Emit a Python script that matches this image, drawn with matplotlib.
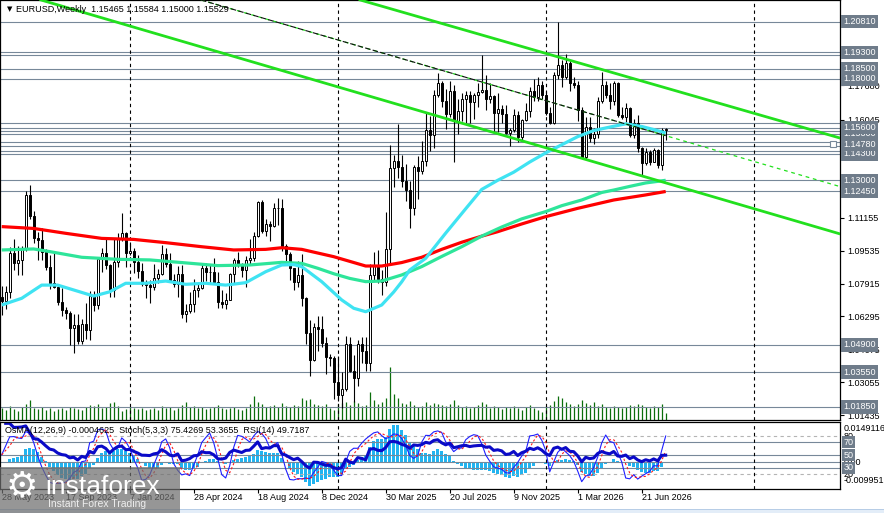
import numpy as np
import pandas as pd
import matplotlib
matplotlib.use("Agg")
import matplotlib.pyplot as plt
from matplotlib.patches import Rectangle
from matplotlib.transforms import blended_transform_factory as blend

plt.rcParams['font.family'] = ['Liberation Sans', 'DejaVu Sans']

# weekly EURUSD candles, bar 0 = week of 28 May 2023
first_open = 1.0725
closes = [
    1.0708, 1.0749, 1.0940, 1.0894, 1.0910, 1.0968, 1.1229, 1.1125, 1.1016, 1.1006,
    1.0949, 1.0872, 1.0796, 1.0775, 1.0700, 1.0660, 1.0645, 1.0573, 1.0588, 1.0510,
    1.0594, 1.0564, 1.0728, 1.0684, 1.0912, 1.0940, 1.0883, 1.0762, 1.0896, 1.1013,
    1.1039, 1.0940, 1.0950, 1.0897, 1.0851, 1.0787, 1.0784, 1.0776, 1.0820, 1.0838,
    1.0938, 1.0890, 1.0808, 1.0790, 1.0838, 1.0642, 1.0656, 1.0693, 1.0762, 1.0771,
    1.0870, 1.0847, 1.0848, 1.0801, 1.0702, 1.0692, 1.0713, 1.0841, 1.0907, 1.0881,
    1.0856, 1.0910, 1.0917, 1.1027, 1.1192, 1.1048, 1.1085, 1.1075, 1.1163, 1.1164,
    1.0975, 1.0936, 1.0866, 1.0797, 1.0834, 1.0720, 1.0546, 1.0416, 1.0576, 1.0566,
    1.0500, 1.0428, 1.0426, 1.0308, 1.0244, 1.0272, 1.0493, 1.0362, 1.0328, 1.0492,
    1.0459, 1.0401, 1.0834, 1.0880, 1.0815, 1.0800, 1.0960, 1.1360, 1.1395, 1.1364,
    1.1297, 1.1253, 1.1163, 1.1364, 1.1348, 1.1397, 1.1550, 1.1523, 1.1720, 1.1780,
    1.1690, 1.1627, 1.1740, 1.1590, 1.1640, 1.1700, 1.1720, 1.1685, 1.1718, 1.1735,
    1.1745, 1.1700, 1.1715, 1.1630, 1.1650, 1.1625, 1.1535, 1.1550, 1.1620, 1.1515,
    1.1595, 1.1640, 1.1740, 1.1710, 1.1770, 1.1718, 1.1630, 1.1581, 1.1819, 1.1868,
    1.1810, 1.1880, 1.1780, 1.1770, 1.1646, 1.1416, 1.1564, 1.1507, 1.1530, 1.1690,
    1.1769, 1.1720, 1.1690, 1.1780, 1.1622, 1.1610, 1.1654, 1.1523, 1.1580, 1.1458,
    1.1384, 1.1441, 1.1392, 1.1450, 1.1375, 1.15465, 1.15529,
]
highs = [
    1.0780, 1.0780, 1.0970, 1.1012, 1.0975, 1.0975, 1.1245, 1.1275, 1.1150, 1.1045,
    1.1065, 1.0960, 1.0930, 1.0945, 1.0780, 1.0770, 1.0675, 1.0655, 1.0640, 1.0640,
    1.0615, 1.0695, 1.0755, 1.0755, 1.0915, 1.0965, 1.1017, 1.0890, 1.1010, 1.1040,
    1.1140, 1.1045, 1.0998, 1.0965, 1.0930, 1.0895, 1.0810, 1.0810, 1.0890, 1.0865,
    1.0980, 1.0965, 1.0942, 1.0840, 1.0880, 1.0885, 1.0690, 1.0752, 1.0812, 1.0790,
    1.0895, 1.0895, 1.0890, 1.0915, 1.0850, 1.0760, 1.0745, 1.0845, 1.0915, 1.0948,
    1.0895, 1.0925, 1.1010, 1.1045, 1.1200, 1.1202, 1.1110, 1.1100, 1.1190, 1.1214,
    1.1210, 1.0985, 1.0945, 1.0870, 1.0905, 1.0937, 1.0725, 1.0610, 1.0595, 1.0630,
    1.0630, 1.0530, 1.0445, 1.0435, 1.0437, 1.0355, 1.0535, 1.0530, 1.0440, 1.0515,
    1.0530, 1.0530, 1.0890, 1.0945, 1.0955, 1.0860, 1.1145, 1.1475, 1.1425, 1.1575,
    1.1425, 1.1380, 1.1295, 1.1377, 1.1420, 1.1495, 1.1632, 1.1615, 1.1745, 1.1830,
    1.1790, 1.1750, 1.1790, 1.1770, 1.1700, 1.1730, 1.1740, 1.1740, 1.1730, 1.1780,
    1.1918, 1.1820, 1.1780, 1.1720, 1.1730, 1.1670, 1.1670, 1.1560, 1.1650, 1.1640,
    1.1600, 1.1680, 1.1760, 1.1800, 1.1810, 1.1790, 1.1740, 1.1660, 1.1835, 1.2081,
    1.1890, 1.1920, 1.1890, 1.1810, 1.1790, 1.1660, 1.1612, 1.1612, 1.1560, 1.1710,
    1.1835, 1.1790, 1.1780, 1.1790, 1.1786, 1.1660, 1.1680, 1.1660, 1.1600, 1.1620,
    1.1466, 1.1458, 1.1449, 1.1460, 1.1455, 1.1560, 1.15584,
]
lows = [
    1.0635, 1.0665, 1.0720, 1.0860, 1.0835, 1.0835, 1.0950, 1.1110, 1.0990, 1.0910,
    1.0910, 1.0860, 1.0765, 1.0770, 1.0685, 1.0630, 1.0615, 1.0488, 1.0448, 1.0495,
    1.0495, 1.0520, 1.0515, 1.0655, 1.0665, 1.0850, 1.0865, 1.0725, 1.0725, 1.0875,
    1.1000, 1.0875, 1.0930, 1.0845, 1.0820, 1.0780, 1.0722, 1.0695, 1.0760, 1.0795,
    1.0835, 1.0875, 1.0800, 1.0775, 1.0725, 1.0620, 1.0600, 1.0645, 1.0650, 1.0725,
    1.0765, 1.0805, 1.0790, 1.0790, 1.0670, 1.0670, 1.0665, 1.0710, 1.0790, 1.0875,
    1.0825, 1.0775, 1.0885, 1.0905, 1.1020, 1.1040, 1.1025, 1.1000, 1.1070, 1.1080,
    1.0950, 1.0905, 1.0810, 1.0760, 1.0775, 1.0680, 1.0495, 1.0335, 1.0410, 1.0460,
    1.0480, 1.0345, 1.0385, 1.0225, 1.0215, 1.0177, 1.0265, 1.0355, 1.0210, 1.0285,
    1.0400, 1.0360, 1.0360, 1.0805, 1.0795, 1.0735, 1.0780, 1.0885, 1.1265, 1.1310,
    1.1265, 1.1200, 1.1065, 1.1130, 1.1210, 1.1330, 1.1370, 1.1445, 1.1460, 1.1710,
    1.1660, 1.1555, 1.1610, 1.1391, 1.1530, 1.1590, 1.1580, 1.1580, 1.1600, 1.1660,
    1.1730, 1.1645, 1.1680, 1.1540, 1.1540, 1.1580, 1.1530, 1.1470, 1.1540, 1.1490,
    1.1500, 1.1590, 1.1610, 1.1690, 1.1690, 1.1700, 1.1622, 1.1575, 1.1575, 1.1800,
    1.1760, 1.1800, 1.1740, 1.1755, 1.1590, 1.1408, 1.1405, 1.1490, 1.1480, 1.1510,
    1.1680, 1.1705, 1.1650, 1.1670, 1.1613, 1.1600, 1.1589, 1.1515, 1.1510, 1.1441,
    1.1326, 1.1375, 1.1375, 1.1390, 1.1359, 1.1351, 1.1500,
]
volumes = [
    12, 10, 14, 11, 9, 13, 16, 20, 12, 11, 13, 10, 12, 9, 11, 12,
    10, 13, 12, 11, 10, 13, 15, 14, 16, 12, 13, 17, 18, 14, 9, 11,
    13, 12, 11, 12, 10, 11, 12, 10, 14, 12, 13, 10, 12, 15, 18, 13,
    14, 12, 13, 11, 12, 13, 15, 12, 11, 12, 13, 11, 10, 12, 16, 24,
    18, 16, 13, 14, 15, 13, 17, 14, 13, 15, 14, 22, 20, 21, 16, 15,
    14, 16, 12, 10, 16, 17, 18, 15, 19, 17, 14, 15, 28, 20, 16, 18,
    22, 53, 26, 22, 17, 16, 19, 15, 13, 14, 18, 15, 17, 16, 15, 14,
    16, 20, 15, 13, 14, 12, 13, 15, 18, 16, 12, 14, 13, 11, 13, 12,
    14, 12, 10, 13, 15, 12, 10, 8, 14, 15, 19, 24, 22, 18, 16, 14,
    16, 20, 17, 15, 18, 14, 16, 13, 12, 14, 13, 12, 13, 15, 14, 16,
    15, 13, 12, 14, 13, 16, 7,
]

# moving averages (bar index, price)
cyan_bars = [0, 5, 10, 14, 18, 23, 27, 31, 36, 41, 46, 51, 56, 61, 66, 70, 73, 75, 80, 85, 88,
             91, 95, 98, 100, 102, 106, 111, 116, 120, 124, 128, 132, 136, 140, 144, 148, 152,
             156, 160, 163, 166]
cyan_vals = [1.0686, 1.0719, 1.0784, 1.0784, 1.0760, 1.0730, 1.0751, 1.0793, 1.0793, 1.0804,
             1.0788, 1.0793, 1.0784, 1.0796, 1.0850, 1.0883, 1.0885, 1.0875, 1.0801, 1.0711,
             1.0670, 1.0653, 1.0686, 1.0750, 1.0800, 1.0858, 1.0916, 1.1040, 1.1160, 1.1255,
             1.1300, 1.1340, 1.1390, 1.1435, 1.1475, 1.1515, 1.1545, 1.1562, 1.1578, 1.1565,
             1.1550, 1.1533]
green_bars = [0, 8, 12, 20, 29, 37, 45, 54, 62, 70, 75, 79, 83, 87, 91, 95, 100, 105, 110, 115,
              120, 125, 130, 136, 140, 145, 150, 153, 157, 161, 166]
green_vals = [1.0957, 1.0962, 1.0949, 1.0921, 1.0911, 1.0908, 1.0895, 1.0880, 1.0883, 1.0896,
              1.0891, 1.0867, 1.0840, 1.0817, 1.0801, 1.0804, 1.0834, 1.0875, 1.0925, 1.0973,
              1.1025, 1.1070, 1.1110, 1.1146, 1.1175, 1.1203, 1.1240, 1.1252, 1.1270, 1.1287,
              1.1300]
red_bars = [0, 8, 16, 25, 33, 41, 50, 58, 66, 70, 75, 83, 91, 95, 100, 105, 110, 115, 120, 124,
            130, 136, 144, 153, 161, 166]
red_vals = [1.1072, 1.1063, 1.1039, 1.1014, 1.1009, 1.0993, 1.0973, 1.0957, 1.0960, 1.0968,
            1.0960, 1.0924, 1.0878, 1.0878, 1.0895, 1.0921, 1.0960, 1.0995, 1.1025, 1.1047,
            1.1085, 1.1121, 1.1162, 1.1203, 1.1228, 1.1245]

# trend lines (bar index, price) anchors
trend_a = ([9.8, 209.6], [1.2188, 1.1036])
trend_b = ([89.6, 209.6], [1.2188, 1.1508])
trend_c = ([49.8, 209.6], [1.2188, 1.1269])

level_prices = [1.2081, 1.1930, 1.1915, 1.1850, 1.1800, 1.1580, 1.1560, 1.1545, 1.1530,
                1.1490, 1.1470, 1.1445, 1.1430, 1.1300, 1.1245, 1.0490, 1.0355, 1.0185]
level_tags = [1.0185, 1.0355, 1.0490, 1.1245, 1.1300, 1.1430, 1.1478, 1.1530, 1.1560,
              1.1800, 1.1850, 1.1930, 1.2081]
tick_prices = [1.17680, 1.15990, 1.11155, 1.09535, 1.07915, 1.06295, 1.04675, 1.03055, 1.01435]
tick_labels = ['1.17680', '1.16045', '1.11155', '1.09535', '1.07915', '1.06295', '1.04675',
               '1.03055', '1.01435']

date_bars = [0, 16, 32, 48, 64, 80, 96, 112, 128, 144, 160]
date_labels = ['28 May 2023', '17 Sep 2023', '7 Jan 2024', '28 Apr 2024', '18 Aug 2024',
               '8 Dec 2024', '30 Mar 2025', '20 Jul 2025', '9 Nov 2025', '1 Mar 2026',
               '21 Jun 2026']
year_bars = [32, 84, 136, 188]

header = 'EURUSD,Weekly  1.15465 1.15584 1.15000 1.15529'
sub_title = 'OsMA(12,26,9) -0.0004625  Stoch(5,3,3) 75.4269 53.3655  RSI(14) 49.7187'

# ---------------------------------------------------------------
c = pd.Series(closes)
h = pd.Series(highs)
l = pd.Series(lows)
o = c.shift(1).fillna(first_open)
idx = np.arange(len(c))

W, H = 884, 513
fig = plt.figure(figsize=(W / 100, H / 100), dpi=100)


def rect(x0, y0, x1, y1):
    return [x0 / W, 1 - y1 / H, (x1 - x0) / W, (y1 - y0) / H]


XLIM = (-0.425, 209.575)
SLATE = '#778899'
FS = 6.5

# volume behind the price panel
axv = fig.add_axes(rect(0, 0, 840, 420))
axv.set_xlim(XLIM)
axv.set_ylim(0, 420)
axv.vlines(idx, 0, volumes, color='#0B6E0B', lw=0.9)
axv.set_axis_off()

ax = fig.add_axes(rect(0, 0, 840, 420))
ax.patch.set_alpha(0)
ax.set_xlim(XLIM)
ax.set_ylim(1.01198, 1.21878)

for p in level_prices:
    ax.axhline(p, color=SLATE, lw=0.8, zorder=1)
ax.plot([207.8], [1.1480], marker='s', ms=4, mfc='white', mec=SLATE, mew=0.8, zorder=1)
for b in year_bars:
    ax.axvline(b, color='black', lw=0.8, ls=(0, (3, 3)), zorder=1)

# candles
up = (c >= o).values
ax.vlines(idx, l, h, color='black', lw=0.8, zorder=3)
body_lo = np.minimum(o, c)
body_h = np.maximum(np.abs(c - o), 0.0003)
ax.bar(idx, body_h, bottom=body_lo, width=0.55,
       color=np.where(up, 'white', 'black'), edgecolor='black', lw=0.7, zorder=4)

# moving averages
ax.plot(red_bars, red_vals, color='#FF0000', lw=2.3, zorder=5, solid_capstyle='butt')
ax.plot(green_bars, green_vals, color='#2EE59A', lw=2.3, zorder=5, solid_capstyle='butt')
ax.plot(cyan_bars, cyan_vals, color='#3FE3F2', lw=2.3, zorder=5, solid_capstyle='butt')

# trend lines
ax.plot(*trend_a, color='#22E01E', lw=2, zorder=6)
ax.plot(*trend_b, color='#22E01E', lw=2, zorder=6)
ax.plot(*trend_c, color='#22E01E', lw=0.9, ls=(0, (3, 3)), zorder=6)
tc_end = np.interp(idx[-1], *trend_c)
ax.plot([trend_c[0][0], idx[-1]], [trend_c[1][0], tc_end], color='#101010', lw=0.8,
        ls=(0, (5, 2)), zorder=6)

# right axis
ax.set_xticks([])
ax.yaxis.tick_right()
ax.set_yticks(tick_prices)
ax.set_yticklabels(tick_labels, fontsize=FS)
ax.tick_params(axis='y', length=3, width=0.8, pad=2, colors='black')
for s in ax.spines.values():
    s.set_linewidth(0.9)
ytr = blend(ax.transAxes, ax.transData)
for p in level_tags:
    ax.text(1.004, p, f'{p:.5f}', transform=ytr, fontsize=FS, color='white', va='center',
            ha='left', zorder=20, clip_on=False,
            bbox=dict(boxstyle='square,pad=0.25', fc='#6F7C8A', ec='none'))

fig.text(7 / W, 1 - 9 / H, '▼', fontsize=5, va='center', ha='left',
         family=['DejaVu Sans'])
fig.text(16 / W, 1 - 9 / H, header, fontsize=FS, va='center', ha='left')

# ---------------- indicator sub-window ----------------
macd = c.ewm(span=12, adjust=False).mean() - c.ewm(span=26, adjust=False).mean()
osma = macd - macd.rolling(9, min_periods=1).mean()
ll = l.rolling(5, min_periods=1).min()
hh = h.rolling(5, min_periods=1).max()
k = (c - ll).rolling(3, min_periods=1).sum() / (hh - ll).rolling(3, min_periods=1).sum() * 100
d = k.rolling(3, min_periods=1).mean()
delta = c.diff()
gain = delta.clip(lower=0).ewm(alpha=1 / 14, adjust=False).mean()
loss = (-delta.clip(upper=0)).ewm(alpha=1 / 14, adjust=False).mean()
rsi = 100 - 100 / (1 + gain / loss)

axo = fig.add_axes(rect(0, 422, 840, 489))
axo.set_xlim(XLIM)
axo.set_ylim(-0.009951, 0.0149116)
axo.bar(idx, osma, width=0.7, color='#22B4F0', lw=0)
axo.axhline(0, color=SLATE, lw=0.8)
axo.set_axis_off()

axs = fig.add_axes(rect(0, 422, 840, 489))
axs.patch.set_alpha(0)
axs.set_xlim(XLIM)
axs.set_ylim(-3.6, 102.1)
for lv in (80, 20):
    axs.axhline(lv, color='#B4B4B4', lw=0.8, ls=(0, (3, 3)))
for lv in (70, 50, 30):
    axs.axhline(lv, color=SLATE, lw=0.8)
for b in year_bars:
    axs.axvline(b, color='black', lw=0.8, ls=(0, (3, 3)))
axs.plot(idx, k, color='#1E1EFF', lw=0.8)
axs.plot(idx, d, color='#FF1A1A', lw=0.8, ls=(0, (2, 2)))
axs.plot(idx, rsi, color='#0A0AC8', lw=2.2)
axs.set_yticks([])
axs.set_xticks(date_bars)
axs.tick_params(axis='x', length=3, width=0.8, labelbottom=False)
for s in axs.spines.values():
    s.set_linewidth(0.9)

str_ = blend(axs.transAxes, axs.transData)
axs.text(1.004, 0.90, '0.0149116', transform=axs.transAxes, fontsize=FS, va='center')
axs.text(1.004, 80, '80', transform=str_, fontsize=FS, va='center')
axs.text(1.004, 20, '20', transform=str_, fontsize=FS, va='center')
axs.text(1.004, 0.12, '-0.009951', transform=axs.transAxes, fontsize=FS, va='center')
axs.text(1.004, 0, '0.00', transform=blend(axs.transAxes, axo.transData), fontsize=FS,
         va='center', zorder=9)
for lv in (70, 50, 30):
    axs.text(1.004, lv, str(lv), transform=str_, fontsize=FS, color='white', va='center',
             zorder=20, bbox=dict(boxstyle='square,pad=0.15', fc='#6F7C8A', ec='none'))
axs.text(5 / 840, 0.87, sub_title, transform=axs.transAxes, fontsize=FS, va='center')

dtr = blend(axs.transData, axs.transAxes)
for b, lbl in zip(date_bars, date_labels):
    axs.text(b, -0.13, lbl, transform=dtr, fontsize=FS, ha='left', va='center',
             clip_on=False)

# bottom strip and logo
fig.add_artist(Rectangle((0, 0), 1, 3 / H, transform=fig.transFigure, fc='#E3EDF8',
                         ec='none'))
fig.add_artist(Rectangle((0, 3 / H), 1, 0.8 / H, transform=fig.transFigure, fc='#B7CDE6',
                         ec='none'))
fig.add_artist(Rectangle((0, 0), 180 / W, 46 / H, transform=fig.transFigure,
                         fc='#6E6E6E', ec='none', alpha=0.72, zorder=30))
fig.text(22 / W, 1 - 486 / H, '⚙', fontsize=26, color='white', ha='center', va='center',
         family=['DejaVu Sans'], zorder=31)
fig.text(45 / W, 1 - 487 / H, 'instaforex', fontsize=19, color='white', ha='left',
         va='center', zorder=31)
fig.text(48 / W, 1 - 504 / H, 'Instant Forex Trading', fontsize=7.5, color='#EEEEEE',
         ha='left', va='center', zorder=31)

fig.savefig('out.png', dpi=100)
